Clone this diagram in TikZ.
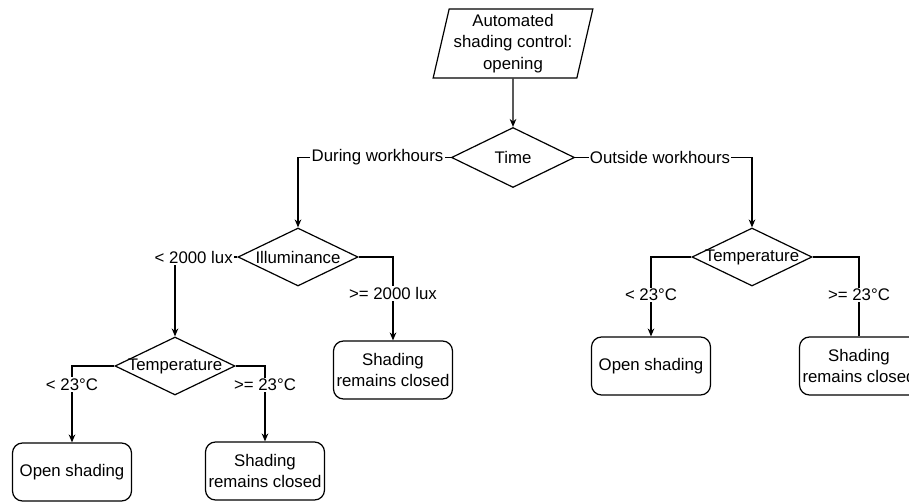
\documentclass[tikz,border=0pt]{standalone}
\usepackage{fontspec}
\setmainfont{Liberation Sans}
\usetikzlibrary{shapes.geometric}
\usetikzlibrary{arrows.meta}

\newcommand{\dtext}[1]{\makebox[0pt]{#1}}

\begin{document}
\begin{tikzpicture}[%
  x=0.75pt, y=-0.75pt,
  >={Stealth[length=6pt, width=5pt]},
  font=\fontsize{12.6}{16}\selectfont,
  flow/.style={draw=black, line width=0.9pt},
  startbox/.style={flow, trapezium, trapezium left angle=76,
    trapezium right angle=104, trapezium stretches=true,
    minimum width=120pt, minimum height=51.75pt, inner sep=1pt,
    align=center},
  decision/.style={flow, diamond, inner sep=0pt,
    minimum width=90pt, minimum height=43.5pt},
  outcome/.style={flow, rectangle, rounded corners=7.5pt,
    minimum width=89.25pt, minimum height=43.5pt, inner sep=1pt,
    align=center},
  branch/.style={fill=white, inner sep=1pt},
]

  \useasboundingbox (0,0) rectangle (909,502);
  \clip (0,0) rectangle (909,502);

  % start and decisions
  \node[startbox] (start) at (513,43.5) {Automated\\shading control:\\opening};
  \node[decision, minimum width=92.25pt, minimum height=45pt] (time) at (513,157.5) {\dtext{Time}};
  \node[decision] (illum) at (298,257) {\dtext{Illuminance}};
  \node[decision] (tempa) at (175,366) {\dtext{Temperature}};
  \node[decision] (tempb) at (752,257) {\dtext{Temperature}};

  % outcomes
  \node[outcome] (opena) at (72,472) {Open shading};
  \node[outcome] (closeda) at (265,471) {Shading\\remains closed};
  \node[outcome] (closedb) at (393,370) {Shading\\remains closed};
  \node[outcome] (openb) at (651,366) {Open shading};
  \node[outcome] (closedc) at (859,366) {Shading\\remains closed};

  % connectors
  \draw[flow,->] (start) -- (time);
  \draw[flow,->] (time.west) -| (illum.north)
    node[branch, pos=0.24] {During workhours};
  \draw[flow,->] (time.east) -| (tempb.north)
    node[branch, pos=0.24] {Outside workhours};
  \draw[flow,->] (illum.west) -| (tempa.north)
    node[branch, pos=0.35] {< 2000 lux};
  \draw[flow,->] (illum.east) -| (closedb.north)
    node[branch, pos=0.72] {>= 2000 lux};
  \draw[flow,->] (tempa.west) -| (opena.north)
    node[branch, pos=0.62] {< 23°C};
  \draw[flow,->] (tempa.east) -| (closeda.north)
    node[branch, pos=0.625] {>= 23°C};
  \draw[flow,->] (tempb.west) -| (openb.north)
    node[branch, pos=0.74] {< 23°C};
  \draw[flow] (tempb.east) -| (closedc.north)
    node[branch, pos=0.74] {>= 23°C};

\end{tikzpicture}
\end{document}
